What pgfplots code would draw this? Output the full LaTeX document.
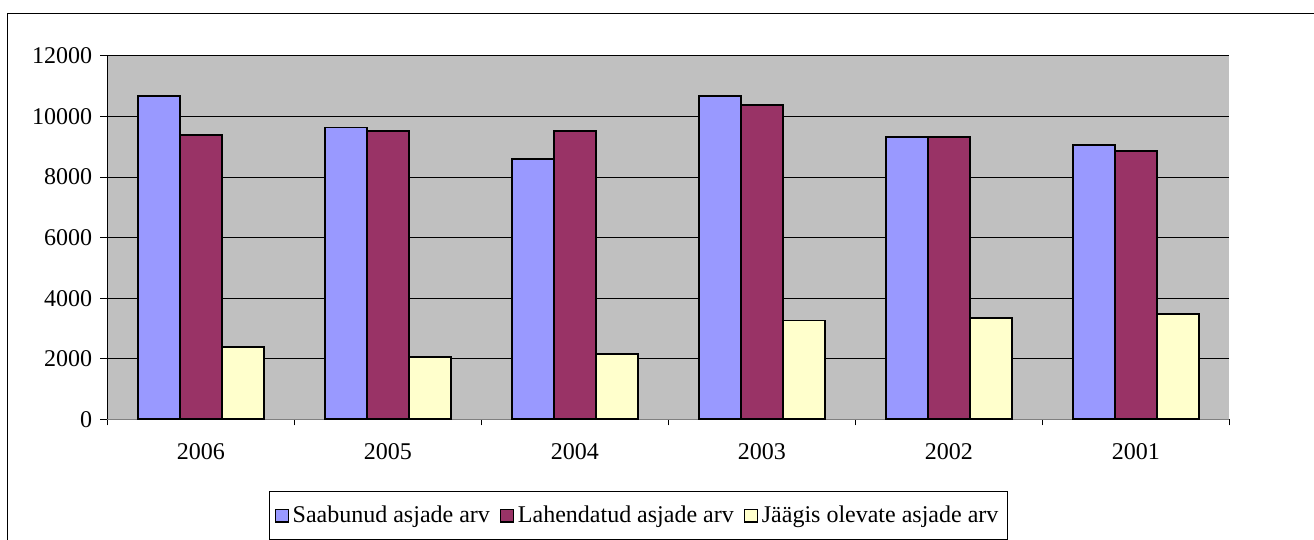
\documentclass[border=0pt]{standalone}
\usepackage{pgfplots}
\pgfplotsset{compat=1.18}
\usepackage{fontspec}
\setmainfont{Liberation Serif}
\definecolor{bgGray}{HTML}{C0C0C0}
\definecolor{sBlue}{HTML}{9999FF}
\definecolor{sRed}{HTML}{993366}
\definecolor{sYellow}{HTML}{FFFFCC}
\begin{document}
\begin{tikzpicture}[font=\fontsize{12pt}{14pt}\selectfont]
\path[use as bounding box] (0,0) rectangle (657pt,270pt);
\draw[line width=0.6pt] (3.65pt,-2pt) -- (3.65pt,263.15pt) -- (660pt,263.15pt);
\begin{axis}[
  at={(53.65pt,60.35pt)}, anchor=south west,
  scale only axis, width=561pt, height=181.65pt,
  xmin=-0.5, xmax=5.5, ymin=0, ymax=12000,
  axis x line*=bottom, axis y line*=left,
  x axis line style={draw=gray, line width=0.6pt},
  y axis line style={draw=black, line width=0.5pt},
  axis background/.style={fill=bgGray},
  xtick={0,...,5},
  xticklabels={2006,2005,2004,2003,2002,2001},
  minor xtick={-0.5,0.5,...,5.5},
  every major x tick/.append style={draw=none},
  every minor x tick/.append style={draw=black, line width=0.5pt},
  minor tick length=3pt,
  major tick length=3.5pt,
  tick align=outside,
  ytick={0,2000,...,12000},
  scaled y ticks=false,
  ymajorgrids,
  grid style={black, line width=0.5pt},
  every major y tick/.append style={draw=black, line width=0.5pt},
  /pgf/number format/assume math mode=true,
  /pgf/number format/1000 sep={},
  tick label style={font=\fontsize{12pt}{14pt}\selectfont},
  xticklabel style={yshift=-5pt},
  yticklabel style={xshift=-0.5pt},
  ybar, bar width=0.2246,
  legend columns=3,
  legend style={at={(0.4735,-0.198)}, anchor=north, draw=black, line width=0.5pt,
    fill=white, font=\fontsize{12pt}{14pt}\selectfont, inner xsep=2.5pt, inner ysep=5pt,
    /tikz/every even column/.append style={column sep=3pt}},
  legend image code/.code={\draw[#1, line width=0.6pt] (0pt,-3.2pt) rectangle (6.4pt,3.2pt);},
]
\addplot[fill=sBlue, draw=black, line width=0.9pt, bar shift=-0.2246] coordinates {(0,10690) (1,9640) (2,8590) (3,10690) (4,9320) (5,9060)};
\addplot[fill=sRed, draw=black, line width=0.9pt, bar shift=0] coordinates {(0,9380) (1,9510) (2,9510) (3,10370) (4,9320) (5,8850)};
\addplot[fill=sYellow, draw=black, line width=0.9pt, bar shift=0.2246] coordinates {(0,2400) (1,2070) (2,2150) (3,3260) (4,3340) (5,3470)};
\legend{Saabunud asjade arv, Lahendatud asjade arv, Jäägis olevate asjade arv}
\end{axis}
\end{tikzpicture}
\end{document}
